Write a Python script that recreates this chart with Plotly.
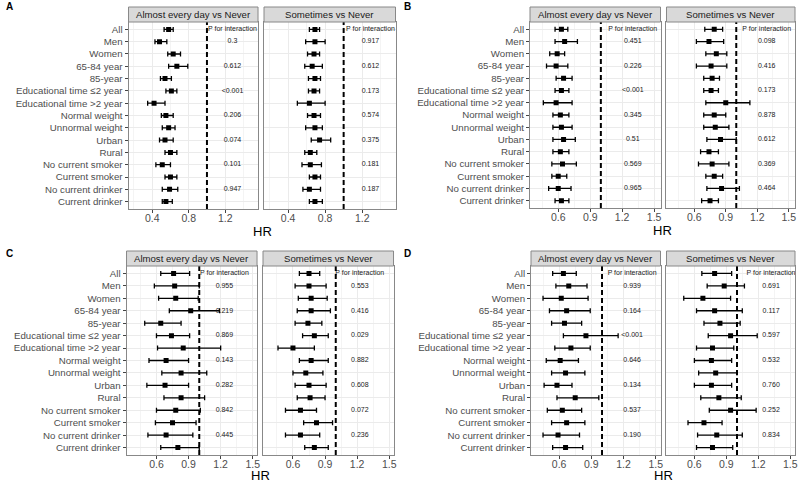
import plotly.graph_objects as go

# rows (top to bottom)
categories = ["All", "Men", "Women", "65-84 year", "85-year",
              "Educational time ≤2 year", "Educational time >2 year",
              "Normal weight", "Unnormal weight", "Urban", "Rural",
              "No current smoker", "Current smoker",
              "No current drinker", "Current drinker"]
facet_titles = ["Almost every day vs Never", "Sometimes vs Never"]

# rows that carry a P for interaction value
p_rows = ["Men", "65-84 year", "Educational time ≤2 year", "Normal weight",
          "Urban", "No current smoker", "No current drinker"]

# ---- panel A ----
a_daily_hr = [0.58, 0.48, 0.63, 0.67, 0.54, 0.61, 0.42, 0.55, 0.58, 0.54, 0.60, 0.51, 0.60, 0.59, 0.55]
a_daily_lo = [0.53, 0.43, 0.57, 0.58, 0.49, 0.55, 0.35, 0.50, 0.51, 0.48, 0.54, 0.44, 0.54, 0.51, 0.51]
a_daily_hi = [0.63, 0.56, 0.71, 0.79, 0.61, 0.67, 0.54, 0.63, 0.65, 0.63, 0.67, 0.60, 0.67, 0.68, 0.62]
a_some_hr = [0.69, 0.69, 0.68, 0.66, 0.69, 0.68, 0.63, 0.68, 0.69, 0.74, 0.64, 0.64, 0.69, 0.63, 0.69]
a_some_lo = [0.63, 0.59, 0.61, 0.58, 0.62, 0.62, 0.50, 0.61, 0.59, 0.65, 0.58, 0.55, 0.63, 0.56, 0.63]
a_some_hi = [0.74, 0.80, 0.74, 0.77, 0.75, 0.74, 0.80, 0.75, 0.77, 0.86, 0.71, 0.76, 0.75, 0.75, 0.77]
a_daily_p = ["0.3", "0.612", "<0.001", "0.206", "0.074", "0.101", "0.947"]
a_some_p = ["0.917", "0.612", "0.173", "0.574", "0.375", "0.181", "0.187"]

# ---- panel B ----
b_daily_hr = [0.63, 0.66, 0.59, 0.58, 0.65, 0.63, 0.58, 0.62, 0.63, 0.65, 0.62, 0.64, 0.60, 0.60, 0.63]
b_daily_lo = [0.57, 0.57, 0.52, 0.49, 0.58, 0.57, 0.46, 0.55, 0.55, 0.55, 0.55, 0.54, 0.54, 0.51, 0.57]
b_daily_hi = [0.69, 0.78, 0.66, 0.69, 0.73, 0.70, 0.73, 0.70, 0.73, 0.76, 0.70, 0.77, 0.68, 0.72, 0.70]
b_some_hr = [0.79, 0.74, 0.81, 0.76, 0.77, 0.76, 0.90, 0.79, 0.80, 0.85, 0.74, 0.77, 0.79, 0.86, 0.75]
b_some_lo = [0.70, 0.62, 0.71, 0.62, 0.69, 0.69, 0.71, 0.69, 0.69, 0.72, 0.66, 0.64, 0.71, 0.72, 0.67]
b_some_hi = [0.87, 0.88, 0.91, 0.91, 0.84, 0.83, 1.13, 0.90, 0.93, 1.00, 0.83, 0.93, 0.87, 1.03, 0.83]
b_daily_p = ["0.451", "0.226", "<0.001", "0.345", "0.51", "0.569", "0.965"]
b_some_p = ["0.098", "0.416", "0.173", "0.878", "0.612", "0.369", "0.464"]

# ---- panel C ----
c_daily_hr = [0.76, 0.77, 0.78, 0.92, 0.64, 0.74, 0.85, 0.69, 0.83, 0.68, 0.83, 0.78, 0.75, 0.69, 0.80]
c_daily_lo = [0.64, 0.58, 0.62, 0.72, 0.49, 0.60, 0.61, 0.53, 0.65, 0.51, 0.67, 0.60, 0.59, 0.52, 0.64]
c_daily_hi = [0.91, 1.00, 0.99, 1.19, 0.83, 0.91, 1.20, 0.90, 1.07, 0.90, 1.05, 1.01, 0.97, 0.94, 1.00]
c_some_hr = [0.75, 0.75, 0.77, 0.77, 0.74, 0.80, 0.60, 0.77, 0.72, 0.75, 0.76, 0.67, 0.82, 0.67, 0.80]
c_some_lo = [0.66, 0.62, 0.65, 0.64, 0.62, 0.69, 0.46, 0.66, 0.60, 0.62, 0.64, 0.53, 0.70, 0.53, 0.71]
c_some_hi = [0.85, 0.91, 0.92, 0.95, 0.87, 0.93, 0.80, 0.93, 0.88, 0.91, 0.90, 0.82, 0.97, 0.85, 0.93]
c_daily_p = ["0.955", "0.219", "0.869", "0.143", "0.282", "0.842", "0.445"]
c_some_p = ["0.553", "0.416", "0.029", "0.882", "0.608", "0.072", "0.236"]

# ---- panel D ----
d_daily_hr = [0.64, 0.69, 0.62, 0.67, 0.65, 0.85, 0.71, 0.61, 0.66, 0.58, 0.75, 0.63, 0.67, 0.59, 0.66]
d_daily_lo = [0.54, 0.57, 0.45, 0.51, 0.53, 0.64, 0.56, 0.48, 0.53, 0.46, 0.58, 0.49, 0.53, 0.45, 0.54]
d_daily_hi = [0.76, 0.86, 0.87, 0.89, 0.81, 1.15, 0.89, 0.78, 0.84, 0.72, 0.97, 0.81, 0.84, 0.79, 0.82]
d_some_hr = [0.79, 0.88, 0.68, 0.79, 0.84, 0.94, 0.77, 0.76, 0.80, 0.76, 0.83, 0.94, 0.69, 0.81, 0.77]
d_some_lo = [0.67, 0.72, 0.50, 0.62, 0.69, 0.73, 0.62, 0.60, 0.64, 0.60, 0.66, 0.74, 0.54, 0.63, 0.62]
d_some_hi = [0.95, 1.07, 0.94, 1.05, 1.03, 1.19, 0.97, 0.95, 1.00, 0.95, 1.04, 1.18, 0.86, 1.05, 0.96]
d_daily_p = ["0.939", "0.164", "<0.001", "0.646", "0.134", "0.537", "0.190"]
d_some_p = ["0.691", "0.117", "0.597", "0.532", "0.760", "0.252", "0.834"]

REF_HR = 1.0

W, H = 800, 483
FONT = "Liberation Sans, Arial, sans-serif"

# layout per panel, in pixels of the 800x483 canvas
panels = [
    dict(letter="A", lxy=(4, 7), fx=[(129, 259), (265, 397)], strip=(7, 22), plot=(22, 209),
         xr=[0.14, 1.56], tick0=0.4, dtick=0.4, text_x=[1.28, 1.29], hr_y=232,
         data=[(a_daily_hr, a_daily_lo, a_daily_hi, a_daily_p), (a_some_hr, a_some_lo, a_some_hi, a_some_p)]),
    dict(letter="B", lxy=(404, 7), fx=[(532, 663), (669, 798)], strip=(7, 22), plot=(22, 208),
         xr=[0.335, 1.56], tick0=0.6, dtick=0.3, text_x=[1.30, 1.29], hr_y=230,
         data=[(b_daily_hr, b_daily_lo, b_daily_hi, b_daily_p), (b_some_hr, b_some_lo, b_some_hi, b_some_p)]),
    dict(letter="C", lxy=(4, 253), fx=[(127, 258), (264, 395)], strip=(251, 266), plot=(266, 455),
         xr=[0.32, 1.54], tick0=0.6, dtick=0.3, text_x=[1.235, 1.225], hr_y=475,
         data=[(c_daily_hr, c_daily_lo, c_daily_hi, c_daily_p), (c_some_hr, c_some_lo, c_some_hi, c_some_p)]),
    dict(letter="D", lxy=(404, 253), fx=[(533, 663), (669, 798)], strip=(251, 266), plot=(266, 455),
         xr=[0.338, 1.545], tick0=0.6, dtick=0.3, text_x=[1.28, 1.32], hr_y=475,
         data=[(d_daily_hr, d_daily_lo, d_daily_hi, d_daily_p), (d_some_hr, d_some_lo, d_some_hi, d_some_p)]),
]


def fx(x):
    return x / W


def fy(y):
    return 1 - y / H


fig = go.Figure()
layout = {}
shapes = []
annotations = []
k = 0
for pan in panels:
    for j, (hr, lo, hi, pv) in enumerate(pan["data"]):
        k += 1
        sfx = "" if k == 1 else str(k)
        xa, ya = "x" + sfx, "y" + sfx
        fig.add_trace(go.Scatter(
            x=hr, y=categories, mode="markers", xaxis=xa, yaxis=ya,
            marker=dict(symbol="square", size=5, color="black"),
            error_x=dict(type="data", symmetric=False,
                         array=[h - m for h, m in zip(hi, hr)],
                         arrayminus=[m - l for m, l in zip(hr, lo)],
                         color="black", thickness=1.3, width=2.5),
            showlegend=False, hoverinfo="skip"))
        fig.add_trace(go.Scatter(
            x=[pan["text_x"][j]] * (len(pv) + 1),
            y=["All"] + p_rows,
            text=["P for interaction"] + pv,
            mode="text", xaxis=xa, yaxis=ya,
            textfont=dict(size=7, color="#1a1a1a", family=FONT),
            showlegend=False, hoverinfo="skip"))

        x0, x1 = pan["fx"][j]
        layout["xaxis" + sfx] = dict(
            domain=[fx(x0), fx(x1)], anchor=ya, range=pan["xr"],
            tick0=pan["tick0"], dtick=pan["dtick"], tickformat=".1f",
            ticks="outside", ticklen=3, tickcolor="#444", ticklabelstandoff=-4,
            tickfont=dict(size=10.5, color="#4d4d4d", family=FONT),
            showgrid=True, gridcolor="#ebebeb", gridwidth=1, zeroline=False,
            minor=dict(dtick=pan["dtick"] / 2, tick0=pan["tick0"], showgrid=True,
                       gridcolor="#f4f4f4", gridwidth=0.6, ticklen=0),
            showline=True, mirror=True, linecolor="#888", linewidth=1)
        layout["yaxis" + sfx] = dict(
            domain=[fy(pan["plot"][1]), fy(pan["plot"][0])], anchor=xa,
            type="category", categoryorder="array", categoryarray=categories,
            range=[len(categories) - 0.4, -0.6],
            showticklabels=(j == 0), ticks="outside" if j == 0 else "",
            ticklen=3, tickcolor="#444",
            tickfont=dict(size=9.7, color="#4d4d4d", family=FONT),
            showgrid=True, gridcolor="#ebebeb", gridwidth=1, zeroline=False,
            showline=True, mirror=True, linecolor="#888", linewidth=1)

        # reference line at HR = 1
        shapes.append(dict(type="line", xref=xa, yref=ya + " domain",
                           x0=REF_HR, x1=REF_HR, y0=0, y1=1,
                           line=dict(color="black", width=2, dash="5px,3px")))
        # facet strip
        s0, s1 = pan["strip"]
        shapes.append(dict(type="rect", xref="paper", yref="paper",
                           x0=fx(x0), x1=fx(x1), y0=fy(s1), y1=fy(s0),
                           fillcolor="#d9d9d9", line=dict(color="#888", width=1)))
        annotations.append(dict(xref="paper", yref="paper",
                                x=(fx(x0) + fx(x1)) / 2, y=(fy(s0) + fy(s1)) / 2,
                                text=facet_titles[j], showarrow=False,
                                xanchor="center", yanchor="middle",
                                font=dict(size=9.6, color="#1a1a1a", family=FONT)))

    # x-axis title and panel letter
    left, right = pan["fx"][0][0], pan["fx"][1][1]
    annotations.append(dict(xref="paper", yref="paper", x=fx((left + right) / 2),
                            y=fy(pan["hr_y"]), text="HR", showarrow=False,
                            xanchor="center", yanchor="middle",
                            font=dict(size=13, color="black", family=FONT)))
    annotations.append(dict(xref="paper", yref="paper", x=fx(pan["lxy"][0]),
                            y=fy(pan["lxy"][1]), text="<b>" + pan["letter"] + "</b>",
                            showarrow=False, xanchor="left", yanchor="middle",
                            font=dict(size=10, color="black", family=FONT)))

fig.update_layout(
    width=W, height=H, margin=dict(l=0, r=0, t=0, b=0),
    paper_bgcolor="white", plot_bgcolor="white",
    font=dict(family=FONT), shapes=shapes, annotations=annotations,
    **layout)

# page body has a default margin; drop it so the figure fills the window
fig.write_html("out.html", config={"displayModeBar": False},
               post_script="document.body.style.margin='0';document.body.style.overflow='hidden';")
